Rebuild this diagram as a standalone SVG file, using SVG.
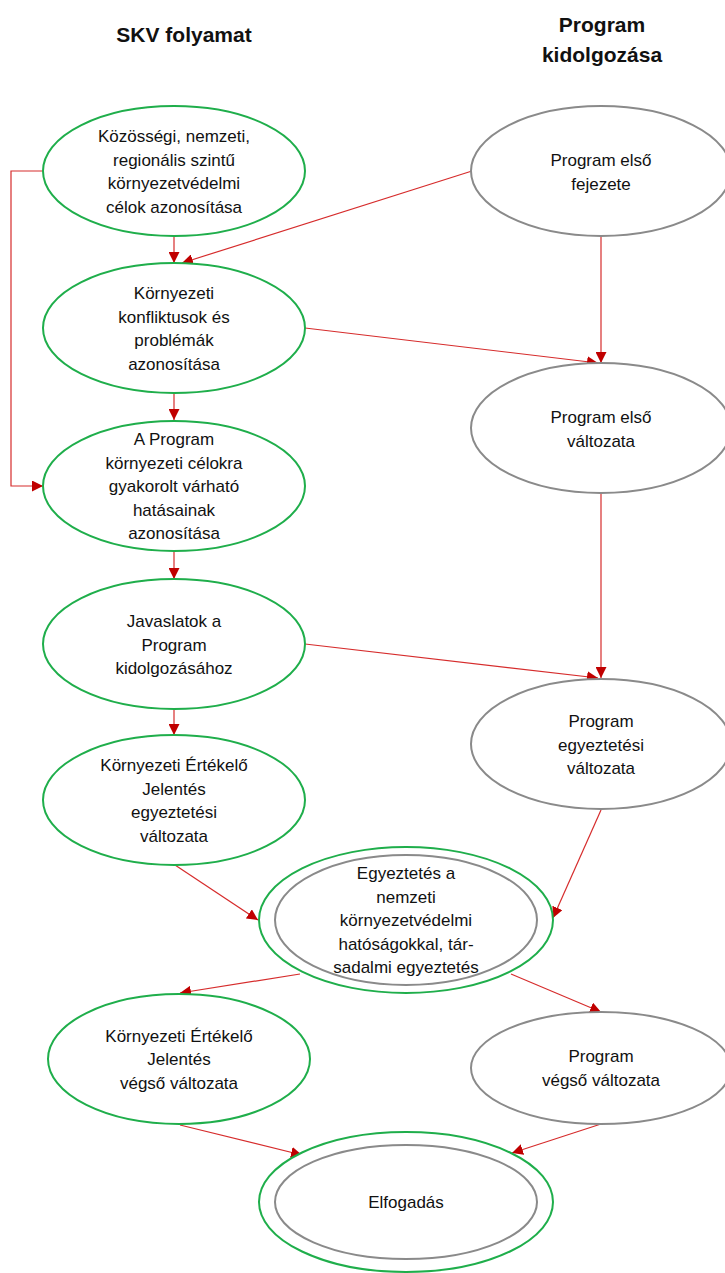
<svg xmlns="http://www.w3.org/2000/svg" width="725" height="1273" viewBox="0 0 725 1273">
<defs>
<style>
.g{fill:#fff;stroke:#1fae4b;stroke-width:2}
.r{fill:#fff;stroke:#8a8a8a;stroke-width:2}
.t{font-family:"Liberation Sans",Arial,sans-serif;font-size:17px;fill:#111;text-anchor:middle}
.h{font-family:"Liberation Sans",Arial,sans-serif;font-size:21px;font-weight:bold;fill:#111;text-anchor:middle}
.c{fill:none;stroke:#d62c2c;stroke-width:1.2;marker-end:url(#a)}
</style>
<marker id="a" viewBox="0 0 10 10" refX="10" refY="5" markerWidth="11" markerHeight="11" markerUnits="userSpaceOnUse" orient="auto">
<path d="M0,0 L10,5 L0,10 Z" fill="#c00000"/>
</marker>
</defs>
<rect width="725" height="1273" fill="#fff"/>
<text class="h" x="184" y="42">SKV folyamat</text>
<text class="h" x="602" y="32">Program</text>
<text class="h" x="602" y="62">kidolgozása</text>
<g id="connectors">
<path class="c" d="M174,237 L174,263"/>
<path class="c" d="M472,171 L182,263"/>
<path class="c" d="M601,237 L601,363"/>
<path class="c" d="M305,328 L598,363"/>
<path class="c" d="M174,394 L174,420"/>
<path class="c" d="M43,171 L11,171 L11,486 L43,486"/>
<path class="c" d="M174,551 L174,579"/>
<path class="c" d="M601,493 L601,678"/>
<path class="c" d="M305,644 L598,678"/>
<path class="c" d="M174,710 L174,735"/>
<path class="c" d="M175,865 L258,920"/>
<path class="c" d="M601,810 L553,918"/>
<path class="c" d="M300,974 L180,993"/>
<path class="c" d="M511,974 L601,1012"/>
<path class="c" d="M180,1125 L302,1155"/>
<path class="c" d="M601,1124 L512,1153"/>
</g>
<g id="n1"><ellipse class="g" cx="174" cy="171" rx="131" ry="65"/>
<text class="t" x="174" y="142">Közösségi, nemzeti,</text>
<text class="t" x="174" y="165.5">regionális szintű</text>
<text class="t" x="174" y="189">környezetvédelmi</text>
<text class="t" x="174" y="212.5">célok azonosítása</text></g>
<g id="r1"><ellipse class="r" cx="601" cy="171" rx="130" ry="65"/>
<text class="t" x="601" y="166">Program első</text>
<text class="t" x="601" y="189.5">fejezete</text></g>
<g id="n2"><ellipse class="g" cx="174" cy="328" rx="131" ry="65"/>
<text class="t" x="174" y="299">Környezeti</text>
<text class="t" x="174" y="322.5">konfliktusok és</text>
<text class="t" x="174" y="346">problémák</text>
<text class="t" x="174" y="369.5">azonosítása</text></g>
<g id="r2"><ellipse class="r" cx="601" cy="428" rx="130" ry="65"/>
<text class="t" x="601" y="423">Program első</text>
<text class="t" x="601" y="446.5">változata</text></g>
<g id="n3"><ellipse class="g" cx="174" cy="486" rx="131" ry="65"/>
<text class="t" x="174" y="445">A Program</text>
<text class="t" x="174" y="468.5">környezeti célokra</text>
<text class="t" x="174" y="492">gyakorolt várható</text>
<text class="t" x="174" y="515.5">hatásainak</text>
<text class="t" x="174" y="539">azonosítása</text></g>
<g id="n4"><ellipse class="g" cx="174" cy="644" rx="131" ry="65"/>
<text class="t" x="174" y="627">Javaslatok a</text>
<text class="t" x="174" y="650.5">Program</text>
<text class="t" x="174" y="674">kidolgozásához</text></g>
<g id="r3"><ellipse class="r" cx="601" cy="744" rx="130" ry="65"/>
<text class="t" x="601" y="727">Program</text>
<text class="t" x="601" y="750.5">egyeztetési</text>
<text class="t" x="601" y="774">változata</text></g>
<g id="n5"><ellipse class="g" cx="174" cy="800" rx="131" ry="65"/>
<text class="t" x="174" y="771">Környezeti Értékelő</text>
<text class="t" x="174" y="794.5">Jelentés</text>
<text class="t" x="174" y="818">egyeztetési</text>
<text class="t" x="174" y="841.5">változata</text></g>
<g id="n6"><ellipse class="g" cx="406" cy="920" rx="147" ry="73"/>
<ellipse class="r" cx="406" cy="920" rx="131" ry="65"/>
<text class="t" x="406" y="879">Egyeztetés a</text>
<text class="t" x="406" y="902.5">nemzeti</text>
<text class="t" x="406" y="926">környezetvédelmi</text>
<text class="t" x="406" y="949.5">hatóságokkal,  tár-</text>
<text class="t" x="406" y="973">sadalmi egyeztetés</text></g>
<g id="n7"><ellipse class="g" cx="179" cy="1059" rx="131" ry="65"/>
<text class="t" x="179" y="1041.5">Környezeti Értékelő</text>
<text class="t" x="179" y="1065">Jelentés</text>
<text class="t" x="179" y="1088.5">végső változata</text></g>
<g id="r4"><ellipse class="r" cx="601" cy="1068" rx="130" ry="56"/>
<text class="t" x="601" y="1062">Program</text>
<text class="t" x="601" y="1085.5">végső változata</text></g>
<g id="n8"><ellipse class="g" cx="406" cy="1202" rx="147" ry="70"/>
<ellipse class="r" cx="406" cy="1202" rx="131" ry="57"/>
<text class="t" x="406" y="1208">Elfogadás</text></g>
</svg>
